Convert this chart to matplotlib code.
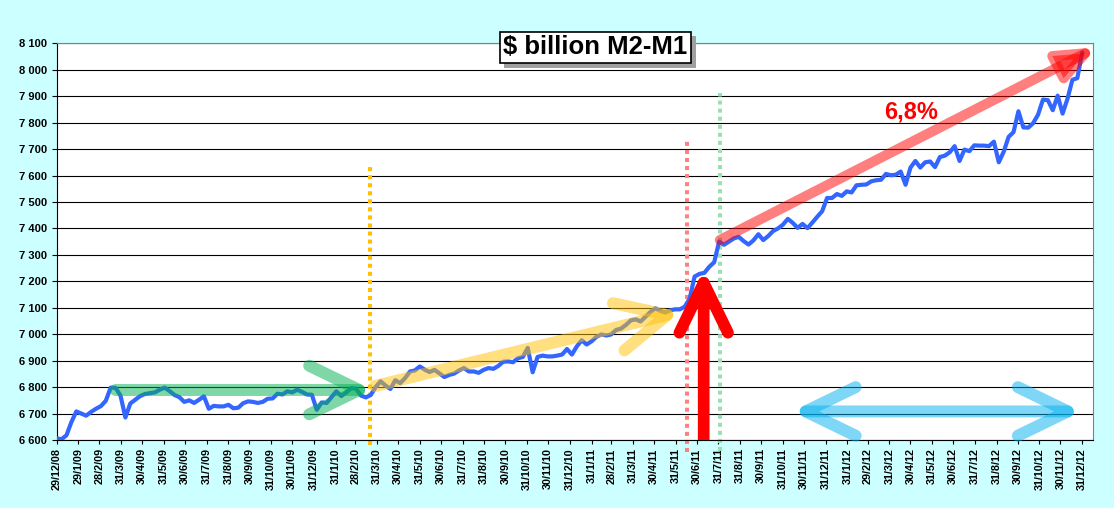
import pandas as pd
import matplotlib
matplotlib.use("Agg")
import matplotlib.pyplot as plt
import matplotlib.dates as mdates
import matplotlib.patheffects as pe
from matplotlib.ticker import FuncFormatter, MultipleLocator

# weekly M2-M1, $ billion (first week 29/12/08)
start_week = "2008-12-29"
m2_m1 = [
    6606, 6603, 6618, 6668, 6708, 6700, 6692, 6706, 6718, 6728,
    6748, 6798, 6797, 6768, 6685, 6738, 6752, 6766, 6774, 6777,
    6780, 6790, 6798, 6785, 6770, 6762, 6744, 6750, 6740, 6752,
    6765, 6718, 6729, 6727, 6727, 6733, 6720, 6722, 6739, 6746,
    6744, 6740, 6744, 6756, 6757, 6775, 6772, 6784, 6780, 6790,
    6782, 6772, 6771, 6714, 6742, 6740, 6762, 6784, 6766, 6780,
    6796, 6794, 6768, 6761, 6770, 6800, 6822, 6806, 6793, 6826,
    6815, 6834, 6859, 6863, 6878, 6866, 6857, 6865, 6852, 6838,
    6846, 6851, 6863, 6872, 6859, 6859, 6854, 6865, 6872, 6869,
    6880, 6896, 6897, 6894, 6909, 6914, 6948, 6856, 6914, 6919,
    6916, 6916, 6919, 6923, 6944, 6923, 6954, 6977, 6961, 6973,
    6990, 6999, 6995, 6999, 7016, 7021, 7035, 7052, 7056, 7048,
    7066, 7084, 7098, 7088, 7082, 7090, 7094, 7094, 7104, 7135,
    7218, 7228, 7232, 7255, 7272, 7350, 7338, 7350, 7362, 7368,
    7352, 7339, 7355, 7378, 7356, 7371, 7390, 7400, 7414, 7436,
    7421, 7402, 7417, 7401, 7422, 7444, 7465, 7515, 7515, 7530,
    7523, 7540, 7536, 7563, 7565, 7566, 7578, 7582, 7584, 7606,
    7601, 7603, 7615, 7565, 7630, 7655, 7630, 7650, 7653, 7632,
    7670, 7675, 7688, 7711, 7655, 7698, 7692, 7714, 7713, 7713,
    7711, 7728, 7650, 7690, 7746, 7764, 7843, 7782, 7781, 7798,
    7830, 7887, 7885, 7847, 7902, 7834, 7890, 7962, 7968, 8065,
]
weeks = pd.date_range(start_week, periods=len(m2_m1), freq="7D")

tick_labels = [
    "29/12/08", "29/1/09", "28/2/09", "31/3/09", "30/4/09", "31/5/09", "30/6/09",
    "31/7/09", "31/8/09", "30/9/09", "31/10/09", "30/11/09", "31/12/09",
    "31/1/10", "28/2/10", "31/3/10", "30/4/10", "31/5/10", "30/6/10", "31/7/10",
    "31/8/10", "30/9/10", "31/10/10", "30/11/10", "31/12/10",
    "31/1/11", "28/2/11", "31/3/11", "30/4/11", "31/5/11", "30/6/11", "31/7/11",
    "31/8/11", "30/9/11", "31/10/11", "30/11/11", "31/12/11",
    "31/1/12", "29/2/12", "31/3/12", "30/4/12", "31/5/12", "30/6/12", "31/7/12",
    "31/8/12", "30/9/12", "31/10/12", "30/11/12", "31/12/12",
]
tick_dates = pd.to_datetime(tick_labels, format="%d/%m/%y")

title = "$ billion M2-M1"
growth_label = "6,8%"

plt.rcParams["font.family"] = ["Liberation Sans", "DejaVu Sans"]
plt.rcParams["font.weight"] = "bold"


def d(s):
    return mdates.date2num(pd.Timestamp(s))


fig = plt.figure(figsize=(11.14, 5.08), dpi=100, facecolor="#ccffff")
ax = fig.add_axes([0.0509, 0.1339, 0.9300, 0.7809])
ax.set_facecolor("white")

ax.plot(weeks, m2_m1, color="#3366ff", lw=3, zorder=3,
        solid_joinstyle="round", solid_capstyle="round")

ax.set_xlim(d("2008-12-29"), d("2013-01-15"))
ax.set_ylim(6600, 8100)
ax.yaxis.set_major_locator(MultipleLocator(100))
ax.yaxis.set_major_formatter(FuncFormatter(lambda v, p: f"{int(v):,}".replace(",", " ")))
ax.set_xticks(tick_dates)
ax.set_xticklabels(tick_labels, rotation=90)
ax.tick_params(axis="y", length=3.5, width=0.8, pad=3.5, labelsize=8)
ax.tick_params(axis="x", length=3, width=0.8, pad=3, labelsize=7.8)
ax.grid(axis="y", color="black", lw=0.8, zorder=1)
ax.set_axisbelow(True)
for side in ["top", "right"]:
    ax.spines[side].set_color("#808080")
ax.spines["left"].set_color("black")
ax.spines["bottom"].set_color("black")

# dotted vertical markers
for x, y0, y1, col in [("2010-03-21", 6581, 7648, "#ffc000"),
                       ("2011-06-16", 6556, 7743, "#ff8080"),
                       ("2011-08-02", 6560, 7912, "#99e0b8")]:
    ax.plot([d(x), d(x)], [y0, y1], color=col, lw=2.9, ls=(0, (1, 1)),
            dash_capstyle="butt", clip_on=False, zorder=2)


def arrow(x0, y0, x1, y1, color, alpha, style, lw, z):
    ann = ax.annotate("", xy=(d(x1), y1), xytext=(d(x0), y0),
                      arrowprops=dict(arrowstyle=style, color=color, alpha=alpha,
                                      lw=lw, capstyle="round", joinstyle="round",
                                      shrinkA=0, shrinkB=0, mutation_scale=10),
                      zorder=z, annotation_clip=False)
    return ann


head = "->,head_length=3.6,head_width=1.75"
arrow("2009-03-23", 6789, "2010-03-25", 6789, "#00b050", 0.5, head, 8.6, 4)
arrow("2010-03-28", 6804, "2011-06-07", 7085, "#ffc000", 0.5, head, 8.6, 4)
arrow("2011-11-13", 6708, "2012-12-30", 6708, "#00b0f0", 0.5,
      "<->,head_length=3.6,head_width=1.75", 8.6, 4)
arrow("2011-08-02", 7356, "2013-01-21", 8085, "#ff0000", 0.5,
      "-|>,head_length=2.2,head_width=0.9", 7.2, 4)
red = arrow("2011-07-10", 6560, "2011-07-10", 7245, "#ff0000", 1.0, head, 8.4, 5)
red.arrow_patch.set_clip_box(ax.bbox)
red.arrow_patch.set_clip_on(True)

ax.text(d("2012-05-01"), 7840, growth_label, color="red", fontsize=17,
        fontweight="bold", ha="center", va="center", zorder=6)

# title box with drop shadow
t = fig.text(595.5 / 1114, 1 - 47.5 / 508, title, fontsize=18.5,
             fontweight="bold", color="black", ha="center", va="center",
             bbox=dict(boxstyle="square,pad=0.15", fc="white", ec="black", lw=1.2))
t.get_bbox_patch().set_path_effects([
    pe.SimplePatchShadow(offset=(3, -3), shadow_rgbFace="#a0a0a0", alpha=1),
    pe.Normal()])

fig.savefig("out.png", dpi=100, facecolor=fig.get_facecolor())
